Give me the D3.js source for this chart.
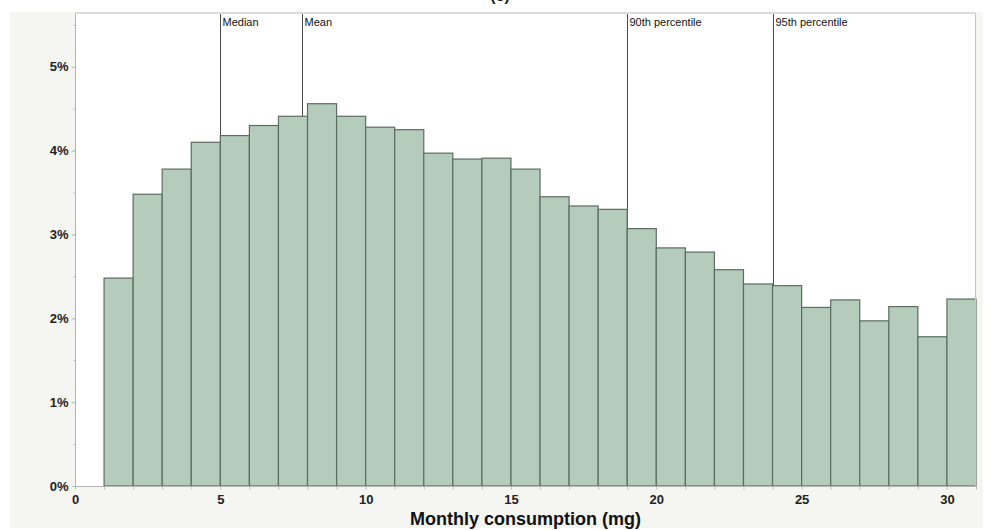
<!DOCTYPE html>
<html>
<head>
<meta charset="utf-8">
<script src="https://cdn.jsdelivr.net/npm/d3@7"></script>
<style>
  body { margin: 0; background: #fff; }
  svg { display: block; font-family: 'Liberation Sans', Arial, sans-serif; }
</style>
</head>
<body>
<svg id="chart" width="989" height="530"></svg>
<script>
// histogram bins (mg), lower edges, each one unit wide
var binStarts = [1, 2, 3, 4, 5, 6, 7, 8, 9, 10, 11, 12, 13, 14, 15, 16, 17, 18, 19, 20, 21, 22, 23, 24, 25, 26, 27, 28, 29, 30]
// share of people in each bin (%)
var binPercents = [2.48, 3.48, 3.78, 4.10, 4.18, 4.30, 4.41, 4.56, 4.41, 4.28, 4.25, 3.97, 3.90, 3.91, 3.78,
  3.45, 3.34, 3.30, 3.07, 2.84, 2.79, 2.58, 2.41, 2.39, 2.13, 2.22, 1.97, 2.14, 1.78, 2.23]

var refLabels = ['Median', 'Mean', '90th percentile', '95th percentile']
var refValues = [5, 7.81, 19, 24]

var xTickLabels = [0, 5, 10, 15, 20, 25, 30]
var yTickLabels = [0, 1, 2, 3, 4, 5]

var svg = d3.select('#chart')

// note: "top" is taken by window.top, so plot edges get their own names
var plotLeft = 75
var plotRight = 976
var plotTop = 14
var plotBottom = 486

var x = d3.scaleLinear().domain([0, 31]).range([plotLeft, plotRight])
var y = d3.scaleLinear().domain([0, 5.63]).range([plotBottom, plotTop])

// grey panel behind everything
svg.append('rect')
  .attr('x', 10).attr('y', 12)
  .attr('width', 973).attr('height', 516)
  .attr('fill', '#f5f5f1')

svg.append('rect')
  .attr('x', plotLeft).attr('y', plotTop)
  .attr('width', plotRight - plotLeft).attr('height', plotBottom - plotTop)
  .attr('fill', '#fff')

// title, mostly cut off at the top like in the source
svg.append('text')
  .attr('x', 500).attr('y', 1)
  .attr('text-anchor', 'middle')
  .attr('font-size', 16).attr('font-weight', 'bold')
  .attr('fill', '#222')
  .text('(c)')

// reference lines go first so the bars sit on top of them
var refs = svg.append('g')
refValues.forEach(function (v, i) {
  var lx = Math.round(x(v)) + 0.5
  refs.append('line')
    .attr('x1', lx).attr('x2', lx)
    .attr('y1', plotTop).attr('y2', plotBottom)
    .attr('stroke', '#4a4a4a').attr('stroke-width', 1)
  refs.append('text')
    .attr('x', lx + 2).attr('y', 26)
    .attr('font-size', 11)
    .attr('fill', '#111')
    .text(refLabels[i])
})

svg.append('g').selectAll('rect')
  .data(binStarts)
  .enter()
  .append('rect')
  .attr('x', function (d) { return x(d) })
  .attr('width', function (d) { return x(d + 1) - x(d) })
  .attr('y', function (d, i) { return y(binPercents[i]) })
  .attr('height', function (d, i) { return plotBottom - y(binPercents[i]) })
  .attr('fill', '#b5cbbb')
  .attr('stroke', '#5c6d61')
  .attr('stroke-width', 1.2)

// plot frame top and right
svg.append('line')
  .attr('x1', plotLeft).attr('x2', plotRight)
  .attr('y1', plotTop - 1).attr('y2', plotTop - 1)
  .attr('stroke', '#dcdcdc').attr('stroke-width', 2)
svg.append('line')
  .attr('x1', plotRight - 0.5).attr('x2', plotRight - 0.5)
  .attr('y1', plotTop).attr('y2', plotBottom)
  .attr('stroke', '#c4c4c4')

// y axis, minor ticks every half percent
var yMinor = svg.append('g').attr('transform', 'translate(' + (plotLeft + 0.5) + ',0)')
  .call(d3.axisLeft(y).tickValues(d3.range(0, 5.6, 0.5)).tickSize(2).tickFormat(''))
yMinor.select('.domain').remove()
yMinor.selectAll('line').attr('stroke', '#bbb')

var yAxis = svg.append('g').attr('transform', 'translate(' + (plotLeft + 0.5) + ',0)')
  .call(d3.axisLeft(y).tickValues(yTickLabels).tickSize(4).tickPadding(3)
    .tickFormat(function (d) { return d + '%' }))
yAxis.select('.domain').attr('stroke', '#b5b5b5').attr('d', 'M0,' + plotTop + 'V' + plotBottom)
yAxis.selectAll('line').attr('stroke', '#bbb')
yAxis.selectAll('text')
  .attr('font-family', "'Liberation Sans', Arial, sans-serif")
  .attr('font-size', 13).attr('font-weight', 'bold').attr('fill', '#222')

// x axis, ticks every mg, labels every 5
var xAxis = svg.append('g').attr('transform', 'translate(0,' + (plotBottom + 0.5) + ')')
  .call(d3.axisBottom(x).tickValues(d3.range(0, 32, 1)).tickSize(3).tickPadding(5)
    .tickFormat(function (d) { return xTickLabels.indexOf(d) >= 0 ? d : '' }))
xAxis.select('.domain').attr('stroke', '#b5b5b5').attr('d', 'M' + plotLeft + ',0H' + plotRight)
xAxis.selectAll('line').attr('stroke', '#bbb')
xAxis.selectAll('text')
  .attr('font-family', "'Liberation Sans', Arial, sans-serif")
  .attr('font-size', 13).attr('font-weight', 'bold').attr('fill', '#222')

svg.append('text')
  .attr('x', (plotLeft + plotRight) / 2).attr('y', 525)
  .attr('text-anchor', 'middle')
  .attr('font-size', 18).attr('font-weight', 'bold')
  .attr('fill', '#111')
  .text('Monthly consumption (mg)')
</script>
</body>
</html>
